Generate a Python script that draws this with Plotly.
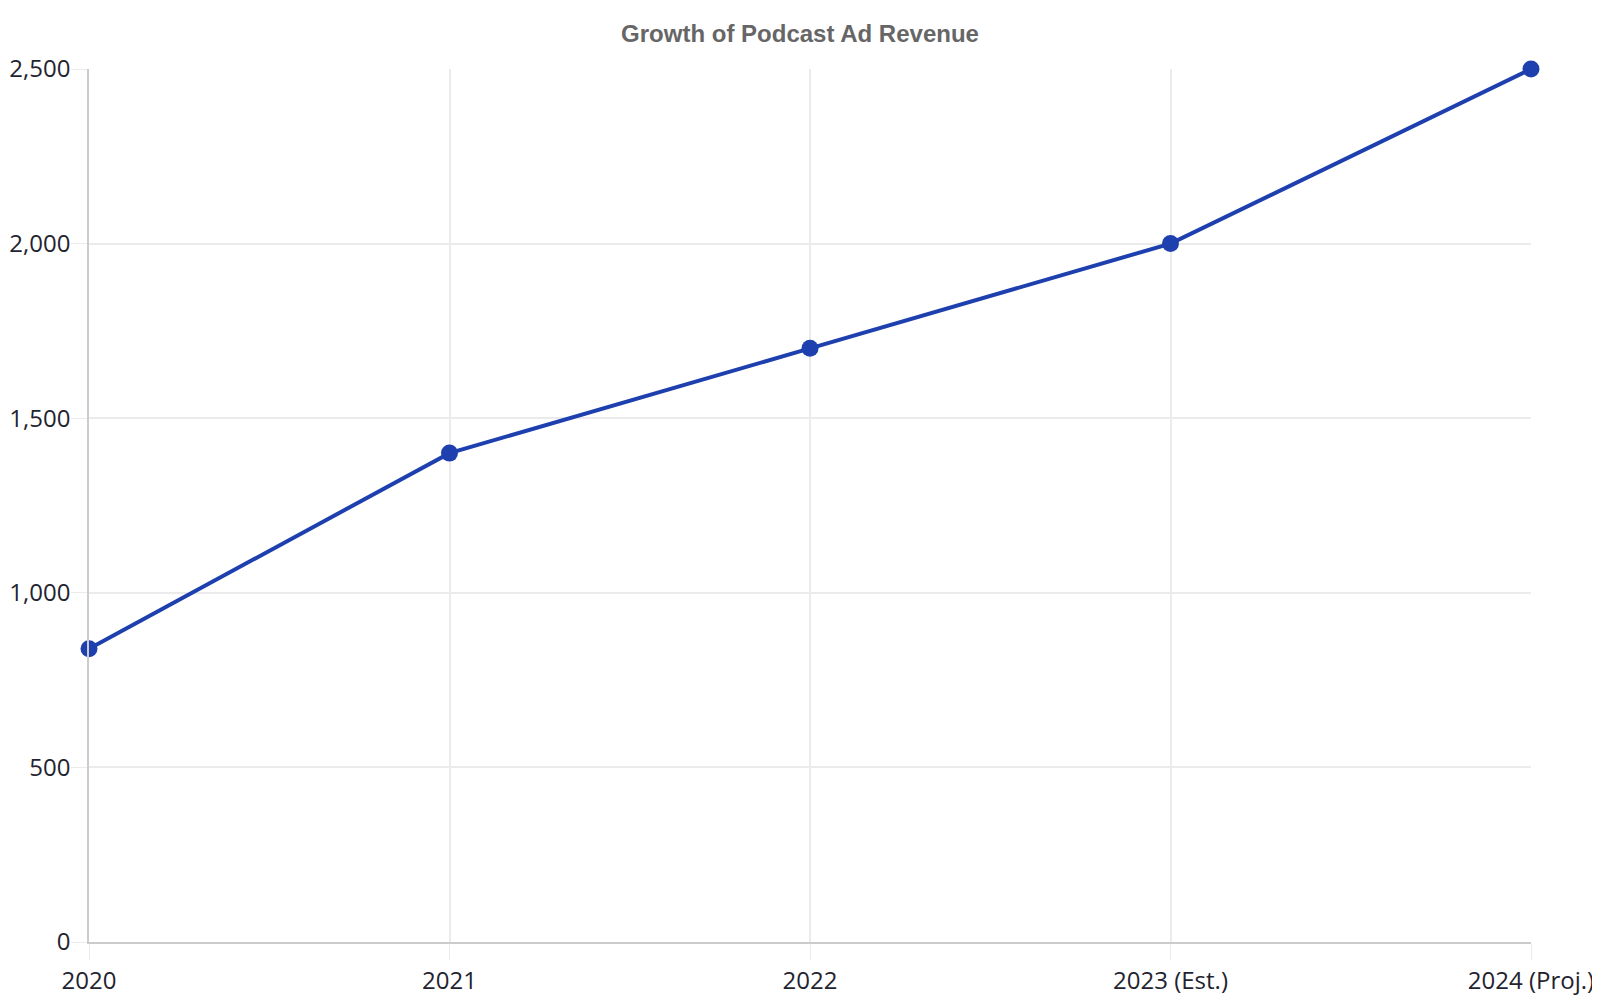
import plotly.graph_objects as go

years = ["2020", "2021", "2022", "2023 (Est.)", "2024 (Proj.)"]
revenue = [840, 1400, 1700, 2000, 2500]

line_color = "#1e40af"
grid_color = "#ebebeb"
axis_color = "#cccccc"
tick_font = dict(family="Open Sans", size=24, color="#1f2430")

fig = go.Figure()
fig.add_trace(
    go.Scatter(
        x=years,
        y=revenue,
        mode="lines+markers",
        line=dict(color=line_color, width=4),
        marker=dict(color=line_color, size=17),
        cliponaxis=False,
        showlegend=False,
    )
)

# the page body adds an 8px offset, margins are shifted to compensate
fig.update_layout(
    width=1600,
    height=1000,
    paper_bgcolor="white",
    plot_bgcolor="white",
    margin=dict(l=81, r=77, t=61, b=66, autoexpand=False),
    title=dict(
        text="<b>Growth of Podcast Ad Revenue</b>",
        x=(800 - 8) / 1600,
        xanchor="center",
        y=0.974,
        yanchor="middle",
        font=dict(family="Liberation Sans", size=24, color="#666666"),
    ),
)

fig.update_xaxes(
    type="category",
    range=[0, len(years) - 1],
    automargin=False,
    showgrid=True,
    gridcolor=grid_color,
    gridwidth=1.5,
    showline=True,
    linecolor=axis_color,
    linewidth=1.5,
    ticks="outside",
    ticklen=16,
    tickcolor=grid_color,
    tickfont=tick_font,
    zeroline=False,
)
fig.update_yaxes(
    range=[0, 2500],
    dtick=500,
    tickformat=",",
    automargin=False,
    showgrid=True,
    gridcolor=grid_color,
    gridwidth=1.5,
    showline=True,
    linecolor=axis_color,
    linewidth=1.5,
    ticks="outside",
    ticklen=16,
    tickcolor=grid_color,
    tickfont=tick_font,
    ticklabelstandoff=-4,
    zeroline=False,
)

fig.write_html("out.html")
